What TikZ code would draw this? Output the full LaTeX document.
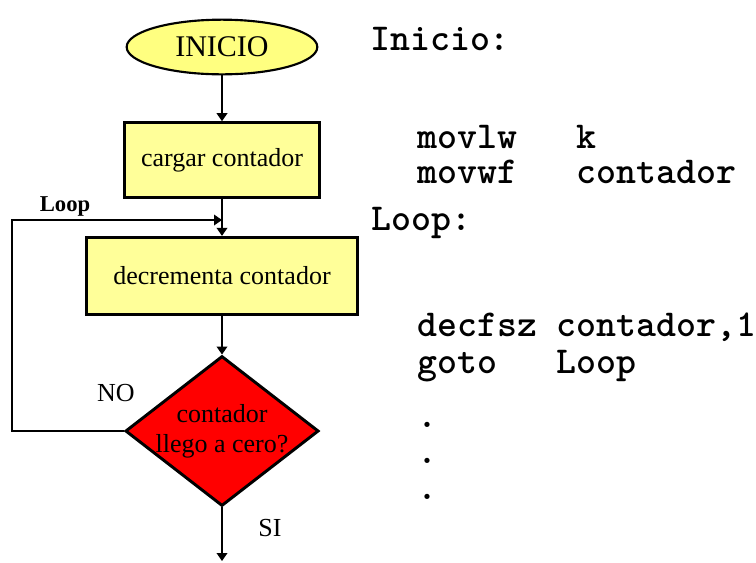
\documentclass[tikz,border=0pt]{standalone}
\usepackage{fontspec}
\setmainfont{Liberation Serif}
\usetikzlibrary{arrows.meta, positioning, shapes.geometric}

\definecolor{boxyellow}{HTML}{FFFF99}
\definecolor{startyellow}{HTML}{FFFF80}
\definecolor{testred}{HTML}{FF0000}

\begin{document}
\begin{tikzpicture}[
        x=0.75pt, y=-0.75pt,
        every node/.style={align=center, inner sep=0pt},
        start/.style={draw, ellipse, line width=1.6pt, fill=startyellow, font=\fontsize{22.5}{26}\selectfont},
        block/.style={draw, line width=2.2pt, fill=boxyellow, font=\fontsize{19.5}{22}\selectfont},
        test/.style={draw, diamond, line width=2.2pt, fill=testred, inner sep=-10pt, font=\fontsize{19.5}{22.5}\selectfont},
        tag/.style={font=\fontsize{19.5}{22}\selectfont},
        code/.style={anchor=base west, font=\ttfamily\bfseries\fontsize{28.5}{30}\selectfont},
        arrow/.style={-{Triangle[length=6pt, width=8pt]}, line width=1.1pt}
        ]
        \useasboundingbox (0,0) rectangle (756,562);

        % Flowchart

        % Nodes
        \node[start, minimum width=143pt, minimum height=41pt] at (222,47) (inicio) {INICIO};
        \node[block, below of=inicio, node distance=84.75pt, minimum width=146pt, minimum height=56pt] (cargar) {cargar contador};
        \node[block, below of=cargar, node distance=87pt, minimum width=203pt, minimum height=58pt] (decrementa) {decrementa contador};
        \node[test, below of=decrementa, node distance=116.25pt, minimum width=145pt, minimum height=112.5pt] (pregunta) {contador\\llego a cero?};

        \coordinate (union) at (222,220);
        \coordinate (retorno) at (12,431);
        \coordinate (salida) at (222,561);

        \node[tag, font=\bfseries\fontsize{17}{20}\selectfont] at (65,206) (lbl_loop) {Loop};
        \node[tag] at (116,393) (lbl_no) {NO};
        \node[tag] at (270,528) (lbl_si) {SI};

        \draw [arrow] (inicio) -- (cargar);
        \draw [arrow] (cargar) -- (decrementa);
        \draw [arrow] (decrementa) -- (pregunta);
        \draw [arrow] (pregunta.west) -- (retorno) |- (union);
        \draw [arrow] (pregunta) -- (salida);

        % Assembler code
        \node[code] at (370,50) (etq_inicio) {Inicio:};
        \node[code] at (417,148) (ins_movlw) {movlw~~~k};
        \node[code] at (417,183) (ins_movwf) {movwf~~~contador};
        \node[code] at (371,230) (etq_loop) {Loop:};
        \node[code] at (417,336) (ins_decfsz) {decfsz~contador,1};
        \node[code] at (417,373) (ins_goto) {goto~~~Loop};
        \node[code] at (417,427) (punto_a) {.};
        \node[code] at (417,463) (punto_b) {.};
        \node[code] at (417,499) (punto_c) {.};

    \end{tikzpicture}
\end{document}
